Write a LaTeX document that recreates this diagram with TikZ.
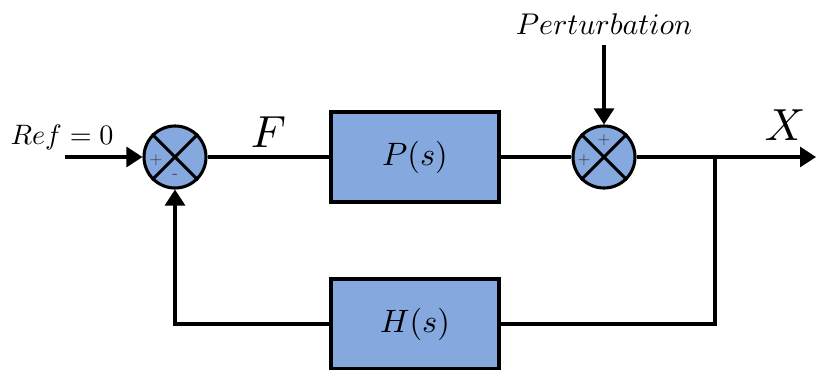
\documentclass[tikz,border=0pt]{standalone}
\usepackage{tikz}
\usetikzlibrary{arrows.meta,positioning}

\definecolor{blockblue}{RGB}{133,169,222}

\begin{document}
\begin{tikzpicture}[line width=2.2pt,
    block/.style={draw,fill=blockblue,minimum width=4.2cm,minimum height=2.25cm},
    sum/.style={draw,fill=blockblue,circle,minimum size=1.55cm,inner sep=0pt},
    sgn/.style={font=\large,text=black!80,inner sep=0pt},
    >={Triangle[length=0.4cm,width=0.5cm]}]
    \useasboundingbox (0,0) rectangle (20.4,9.225);
    % Blocks and summing junctions
    \node[sum] (s1) at (4.375,5.3) {};
    \node[block] (p) at (10.375,5.3) {\scalebox{2.3}{$P(s)$}};
    \node[sum] (s2) at (15.1,5.3) {};
    \node[block] (h) at (10.375,1.125) {\scalebox{2.3}{$H(s)$}};
    % Crosses in the junctions
    \foreach \s in {s1,s2}{
        \draw (\s.north west) -- (\s.south east);
        \draw (\s.south west) -- (\s.north east);
    }
    \node[sgn] (s1p) at (3.9,5.22) {$+$};
    \node[sgn] (s1m) at (4.375,4.82) {-};
    \node[sgn] (s2p) at (15.1,5.72) {$+$};
    \node[sgn] (s2q) at (14.6,5.22) {$+$};
    % Inputs and output
    \coordinate (ref) at (1.625,5.3);
    \node (reflbl) at (1.55,5.78) {\scalebox{2.0}{$Ref = 0$}};
    \node (pert) at (15.1,8.62) {\scalebox{2.13}{$Perturbation$}};
    \coordinate (out) at (20.4,5.3);
    \coordinate (br) at (17.875,5.3);
    \coordinate (brd) at (17.875,1.125);
    \coordinate (fb) at (4.375,1.125);
    \draw[->] (ref) -- (s1);
    \draw (s1) -- (p) node[midway,above=2pt] (flbl) {\scalebox{3.2}{$F$}};
    \draw (p) -- (s2);
    \draw[->] (pert.south) ++(0,-0.1) -- (s2);
    \draw[->] (s2) -- (out);
    \node (xlbl) at (19.625,6.1) {\scalebox{3.2}{$X$}};
    % Feedback loop
    \draw (br) -- (brd) -- (h);
    \draw[->] (h) -- (fb) -- (s1);
\end{tikzpicture}
\end{document}
